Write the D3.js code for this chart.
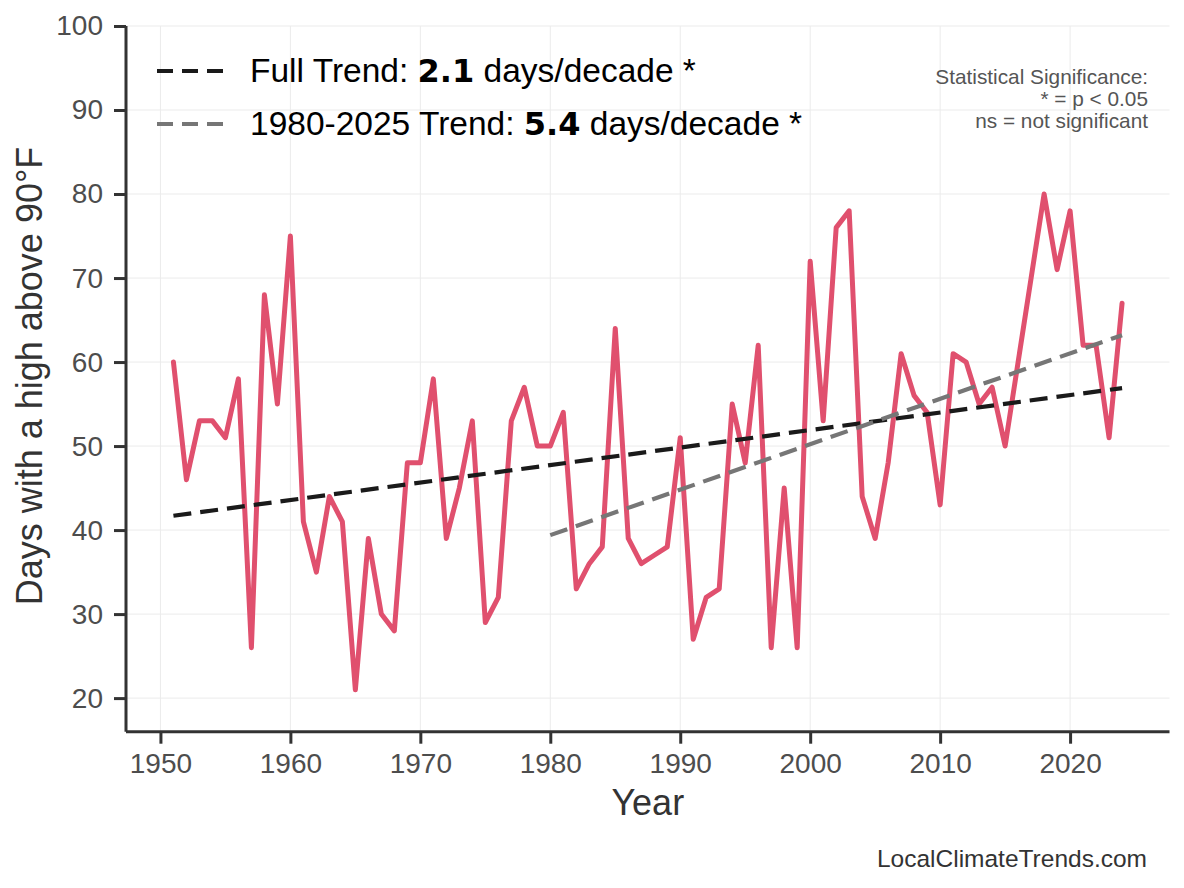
<!DOCTYPE html>
<html><head><meta charset="utf-8">
<script src="https://cdn.jsdelivr.net/npm/d3@7/dist/d3.min.js"></script>
<style>body{margin:0;background:#fff}svg{display:block}</style></head>
<body><svg id="c" width="1184" height="888"></svg>
<script>
// ---- data ----
const years = d3.range(1951, 2025);
const days = [
  60, 46, 53, 53, 51, 58, 26, 68, 55, 75,
  41, 35, 44, 41, 21, 39, 30, 28, 48, 48,
  58, 39, 45, 53, 29, 32, 53, 57, 50, 50,
  54, 33, 36, 38, 64, 39, 36, 37, 38, 51,
  27, 32, 33, 55, 48, 62, 26, 45, 26, 72,
  53, 76, 78, 44, 39, 48, 61, 56, 54, 43,
  61, 60, 55, 57, 50, 60, 70, 80, 71, 78,
  62, 62, 51, 67
];
const fullTrendYears = [1951, 2024];
const fullTrendValues = [41.7, 56.9];
const recentTrendYears = [1980, 2024];
const recentTrendValues = [39.4, 63.2];
const xTicks = [1950, 1960, 1970, 1980, 1990, 2000, 2010, 2020];
const yTicks = [20, 30, 40, 50, 60, 70, 80, 90, 100];
const legendItems = [
  {pre: "Full Trend: ", val: "2.1", post: " days/decade *"},
  {pre: "1980-2025 Trend: ", val: "5.4", post: " days/decade *"}
];
const noteLines = ["Statistical Significance:", "* = p < 0.05", "ns = not significant"];

// ---- layout ----
const FONT = "'Liberation Sans', Arial, Helvetica, sans-serif";
const BOLDFONT = "'DejaVu Sans', Verdana, sans-serif";
const svg = d3.select("#c");
const L = 126, R = 1169.5, T = 26, B = 731.7;
const x = d3.scaleLinear().domain([1947.35, 2027.65]).range([L, R]);
const y = d3.scaleLinear().domain([16.0, 100]).range([B, T]);

// grid
const g = svg.append("g");
g.selectAll(".gx").data(xTicks).join("line")
  .attr("x1", d => x(d)).attr("x2", d => x(d)).attr("y1", T).attr("y2", B)
  .attr("stroke", "#ebebeb").attr("stroke-width", 1);
g.selectAll(".gy").data(yTicks).join("line")
  .attr("x1", L).attr("x2", R).attr("y1", d => y(d)).attr("y2", d => y(d))
  .attr("stroke", "#ebebeb").attr("stroke-width", 1);

// data line
const pts = years.map((yr, i) => [yr, days[i]]);
svg.append("path").datum(pts)
  .attr("d", d3.line().x(d => x(d[0])).y(d => y(d[1])))
  .attr("fill", "none").attr("stroke", "#E0506E").attr("stroke-width", 5)
  .attr("stroke-linejoin", "round").attr("stroke-linecap", "round");

// trends
function trend(ys, vs, color) {
  svg.append("path").datum(ys.map((yr, i) => [yr, vs[i]]))
    .attr("d", d3.line().x(d => x(d[0])).y(d => y(d[1])))
    .attr("fill", "none").attr("stroke", color).attr("stroke-width", 4.2)
    .attr("stroke-dasharray", "18,9");
}
trend(fullTrendYears, fullTrendValues, "#1a1a1a");
trend(recentTrendYears, recentTrendValues, "#767676");

// axes
const xAxis = d3.axisBottom(x).tickValues(xTicks).tickFormat(d3.format("d")).tickSize(12).tickPadding(9);
const yAxis = d3.axisLeft(y).tickValues(yTicks).tickFormat(d3.format("d")).tickSize(12).tickPadding(11);
const gx = svg.append("g").attr("transform", `translate(0,${B})`).call(xAxis);
const gy = svg.append("g").attr("transform", `translate(${L},0)`).call(yAxis);
[gx, gy].forEach(a => {
  a.select(".domain").attr("stroke", "#333").attr("stroke-width", 3);
  a.selectAll(".tick line").attr("stroke", "#333").attr("stroke-width", 3);
  a.selectAll(".tick text").attr("fill", "#4d4d4d").style("font-family", FONT).style("font-size", "28px");
});
gx.select(".domain").attr("d", `M${L},0H${R}`);
gy.select(".domain").attr("d", `M0,${B}V${T}`);

// axis titles
svg.append("text").attr("x", (L + R) / 2).attr("y", 815).attr("text-anchor", "middle")
  .attr("fill", "#333").style("font-family", FONT).style("font-size", "36px").text("Year");
svg.append("text").attr("transform", `translate(42,376) rotate(-90)`).attr("text-anchor", "middle")
  .attr("fill", "#333").style("font-family", FONT).style("font-size", "36px").text("Days with a high above 90°F");

// legend
const legColors = ["#1a1a1a", "#767676"];
const legY = [71, 124];
legendItems.forEach((it, i) => {
  svg.append("line").attr("x1", 157).attr("x2", 224).attr("y1", legY[i]).attr("y2", legY[i])
    .attr("stroke", legColors[i]).attr("stroke-width", 4.2).attr("stroke-dasharray", "16,9");
  const t = svg.append("text").attr("x", 250).attr("y", legY[i] + 11)
    .attr("fill", "#000").style("font-family", FONT).style("font-size", "33.5px");
  t.append("tspan").text(it.pre);
  t.append("tspan").style("font-family", BOLDFONT).style("font-weight", "bold").style("font-size", "32px").text(it.val);
  t.append("tspan").text(it.post);
});

// note
noteLines.forEach((s, i) => {
  svg.append("text").attr("x", 1148).attr("y", 84 + i * 22).attr("text-anchor", "end")
    .attr("fill", "#555").style("font-family", FONT).style("font-size", "20.8px").text(s);
});

// caption
svg.append("text").attr("x", 1147).attr("y", 867).attr("text-anchor", "end")
  .attr("fill", "#333").style("font-family", FONT).style("font-size", "24.5px").text("LocalClimateTrends.com");
</script></body></html>
